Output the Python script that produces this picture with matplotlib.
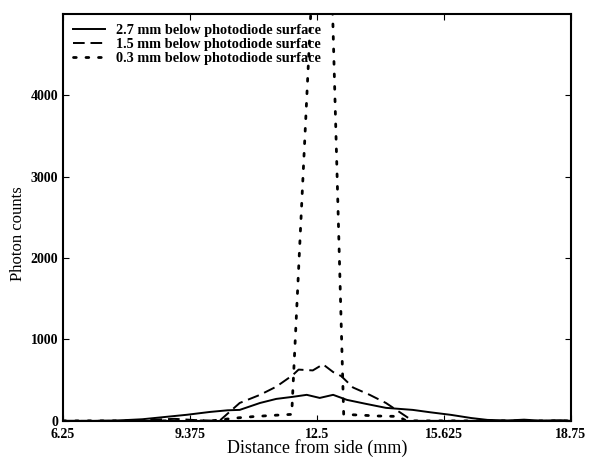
import matplotlib.pyplot as plt

plt.rcParams['font.family'] = 'Liberation Serif'

# 2.7 mm below photodiode surface
x_deep = [6.25, 7.0, 7.6, 8.2, 8.8, 9.3, 9.87, 10.3, 10.6, 11.1, 11.5, 11.9, 12.25,
          12.57, 12.9, 13.24, 13.7, 14.2, 14.86, 15.3, 15.8, 16.3, 16.7, 17.2, 17.6, 18.0, 18.5, 18.75]
y_deep = [0, 0, 5, 20, 50, 75, 110, 130, 135, 220, 270, 295, 320,
          282, 320, 258, 210, 160, 135, 105, 74, 35, 12, 5, 15, 3, 8, 0]

# 1.5 mm below photodiode surface
x_mid = [6.25, 8.0, 8.5, 9.0, 9.5, 10.1, 10.6, 11.1, 11.5, 11.9, 12.05, 12.4,
         12.65, 12.9, 13.1, 13.39, 13.8, 14.2, 14.5, 14.86, 15.5, 16.5, 18.75]
y_mid = [0, 0, 15, 25, 10, 0, 220, 320, 420, 560, 630, 620,
         695, 600, 550, 410, 320, 220, 120, 0, 0, 0, 0]

# 0.3 mm below photodiode surface
x_shallow = [6.25, 9.9, 10.5, 11.0, 11.5, 11.88, 12.69, 13.16, 13.6, 14.0, 14.5, 14.7, 15.5, 18.75]
y_shallow = [0, 0, 35, 55, 70, 80, 8580, 80, 70, 60, 55, 0, 0, 0]

x_ticks = [6.25, 9.375, 12.5, 15.625, 18.75]
x_tick_labels = ['6.25', '9.375', '12.5', '15.625', '18.75']
y_ticks = [0, 1000, 2000, 3000, 4000]

fig = plt.figure(figsize=(5.89, 4.62), dpi=100)
ax = fig.add_axes([0.107, 0.089, 0.862, 0.881])

ax.plot(x_deep, y_deep, color='black', linestyle='-', linewidth=1.4,
        label='2.7 mm below photodiode surface')
ax.plot(x_mid, y_mid, color='black', linestyle=(0, (6, 3)), linewidth=1.4,
        label='1.5 mm below photodiode surface')
ax.plot(x_shallow, y_shallow, color='black', linestyle=(0, (1, 3.5)), linewidth=2,
        dash_capstyle='round', label='0.3 mm below photodiode surface')

ax.set_xlim(6.25, 18.75)
ax.set_ylim(0, 5000)
ax.set_xticks(x_ticks)
ax.set_xticklabels(x_tick_labels)
ax.set_yticks(y_ticks)
ax.tick_params(direction='in', top=True, right=True, length=4, labelsize=10)
ax.tick_params(axis='x', pad=5)
for lab in ax.get_xticklabels() + ax.get_yticklabels():
    lab.set_fontweight('bold')
for s in ax.spines.values():
    s.set_linewidth(1.5)

ax.set_xlabel('Distance from side (mm)', fontsize=13, labelpad=-1)
ax.set_ylabel('Photon counts', fontsize=12)
ax.yaxis.set_label_coords(-0.072, 0.46)

leg = ax.legend(loc='upper left', frameon=False, fontsize=10.3, handlelength=2.2,
                handletextpad=0.8, labelspacing=0.08, borderaxespad=0.3)
for t in leg.get_texts():
    t.set_fontweight('bold')

fig.savefig('out.png', dpi=100)
